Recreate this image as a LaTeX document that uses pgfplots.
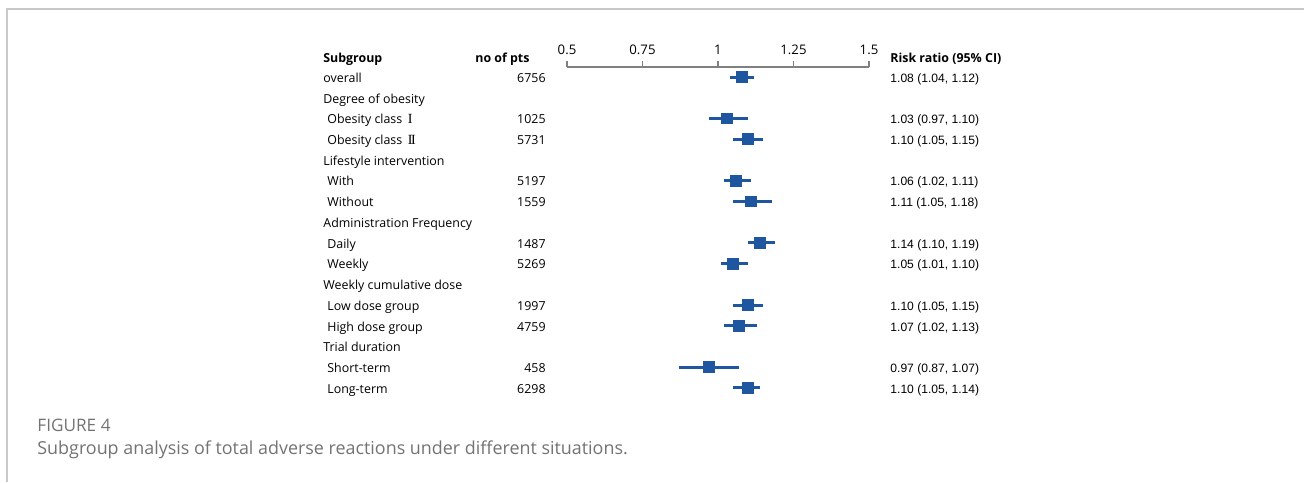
\documentclass[border=0pt]{standalone}
\usepackage{fontspec}
\usepackage{pgfplots}
\usepackage{pgfplotstable}
\pgfplotsset{compat=1.18}
\setmainfont{Open Sans}
\newfontfamily\arialf{Liberation Sans}
\newfontfamily\capf{Open Sans}
\newfontfamily\romf{Liberation Serif}
\definecolor{fpblue}{RGB}{31,86,160}
\definecolor{framegray}{RGB}{200,200,200}
\definecolor{capgray}{RGB}{115,115,115}
\pgfplotstableread{
row rr lo hi
1 1.08 1.04 1.12
3 1.03 0.97 1.10
4 1.10 1.05 1.15
6 1.06 1.02 1.11
7 1.11 1.05 1.18
9 1.14 1.10 1.19
10 1.05 1.01 1.10
12 1.10 1.05 1.15
13 1.07 1.02 1.13
15 0.97 0.87 1.07
16 1.10 1.05 1.14
}\data
\newcommand{\tf}{\fontsize{6.2pt}{7pt}\selectfont}
\newcommand{\af}{\arialf\fontsize{6.05pt}{7pt}\selectfont}
\begin{document}
\begin{tikzpicture}[x=0.5pt,y=-0.5pt]
\path[use as bounding box] (0,0) rectangle (1304,482);
\draw[framegray, line width=0.6pt] (7,482) -- (7,9) -- (1304,9);
\begin{axis}[
  at={(283.5pt,-33.5pt)}, anchor=north west,
  scale only axis, width=151pt, height=165.65pt,
  xmin=0.5, xmax=1.5, ymin=0.5176, ymax=16.5, y dir=reverse,
  axis x line=top, axis y line=none,
  axis line style={-, gray, line width=0.6pt},
  xtick={0.5,0.75,1,1.25,1.5},
  xticklabels={0.5,0.75,1,1.25,1.5},
  tick align=outside, major tick length=3pt,
  major tick style={gray, line width=0.6pt},
  xticklabel style={font=\fontsize{6.6pt}{7pt}\selectfont, yshift=-0.5pt},
  clip=false,
]
\addplot[only marks, mark=square*, mark size=2.7pt, color=fpblue,
  error bars/.cd, x dir=both, x explicit, error mark=none,
  error bar style={line width=1.5pt, fpblue}]
  table[x=rr, y=row,
    x error minus expr=\thisrow{rr}-\thisrow{lo},
    x error plus expr=\thisrow{hi}-\thisrow{rr}] {\data};
\end{axis}
% headers
\node[anchor=mid west, inner sep=0pt, font=\tf\bfseries] at (323,57) {Subgroup};
\node[anchor=mid west, inner sep=0pt, font=\tf\bfseries] at (475,57) {no of pts};
\node[anchor=mid west, inner sep=0pt, font=\tf\bfseries] at (890,57) {Risk ratio (95\% CI)};
% left labels
\begin{scope}[every node/.style={anchor=mid west, inner sep=0pt, font=\tf}]
\node at (323,77.0) {overall};
\node at (323,97.7) {Degree of obesity};
\node at (327,118.5) {Obesity class\hspace{0.45em}{\romf\fontsize{7pt}{8pt}\selectfont I}};
\node at (327,139.2) {Obesity class\hspace{0.45em}{\romf\fontsize{7pt}{8pt}\selectfont I\kern-0.1em I}};
\node at (323,159.9) {Lifestyle intervention};
\node at (327,180.6) {With};
\node at (327,201.4) {Without};
\node at (323,222.1) {Administration Frequency};
\node at (327,242.8) {Daily};
\node at (327,263.6) {Weekly};
\node at (323,284.3) {Weekly cumulative dose};
\node at (327,305.0) {Low dose group};
\node at (327,325.7) {High dose group};
\node at (323,346.5) {Trial duration};
\node at (327,367.2) {Short-term};
\node at (327,387.9) {Long-term};
\end{scope}
\begin{scope}[every node/.style={anchor=mid east, inner sep=0pt, font=\tf}]
\node at (546,77.0) {6756};
\node at (546,118.5) {1025};
\node at (546,139.2) {5731};
\node at (546,180.6) {5197};
\node at (546,201.4) {1559};
\node at (546,242.8) {1487};
\node at (546,263.6) {5269};
\node at (546,305.0) {1997};
\node at (546,325.7) {4759};
\node at (546,367.2) {458};
\node at (546,387.9) {6298};
\end{scope}
\begin{scope}[every node/.style={anchor=mid west, inner sep=0pt, font=\af}]
\node at (890,77.0) {1.08 (1.04, 1.12)};
\node at (890,118.5) {1.03 (0.97, 1.10)};
\node at (890,139.2) {1.10 (1.05, 1.15)};
\node at (890,180.6) {1.06 (1.02, 1.11)};
\node at (890,201.4) {1.11 (1.05, 1.18)};
\node at (890,242.8) {1.14 (1.10, 1.19)};
\node at (890,263.6) {1.05 (1.01, 1.10)};
\node at (890,305.0) {1.10 (1.05, 1.15)};
\node at (890,325.7) {1.07 (1.02, 1.13)};
\node at (890,367.2) {0.97 (0.87, 1.07)};
\node at (890,387.9) {1.10 (1.05, 1.14)};
\end{scope}
% caption
\node[anchor=mid west, inner sep=0pt, text=capgray, font=\capf\fontsize{8.6pt}{10pt}\selectfont] at (37,426) {FIGURE 4};
\node[anchor=mid west, inner sep=0pt, text=capgray, font=\capf\fontsize{8.95pt}{11pt}\selectfont] at (37,449) {Subgroup analysis of total adverse reactions under different situations.};
\end{tikzpicture}
\end{document}
